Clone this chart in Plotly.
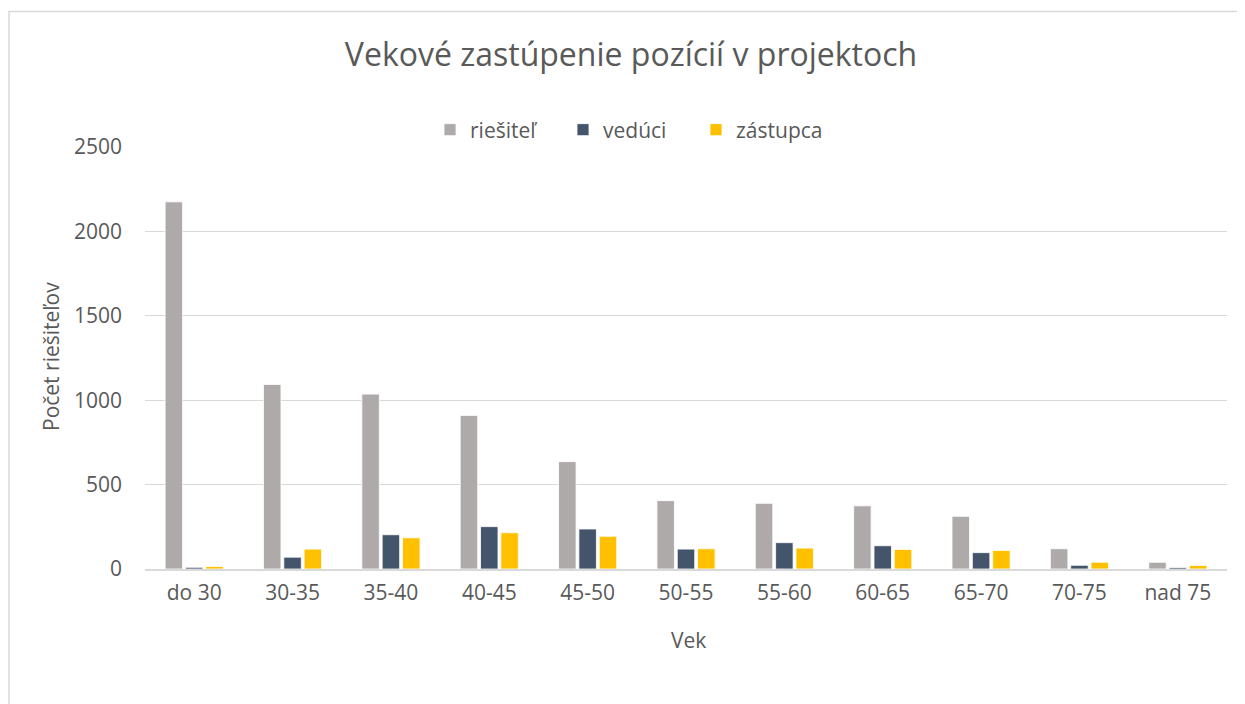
import plotly.graph_objects as go

categories = ["do 30", "30-35", "35-40", "40-45", "45-50", "50-55", "55-60", "60-65", "65-70", "70-75", "nad 75"]
riesitel = [2175, 1093, 1036, 910, 636, 405, 389, 374, 312, 120, 40]
veduci = [10, 70, 203, 251, 237, 118, 156, 138, 97, 22, 9]
zastupca = [15, 118, 185, 215, 194, 120, 124, 116, 110, 40, 21]
series_names = ["riešiteľ", "vedúci", "zástupca"]
series_colors = ["#AEAAAA", "#44546A", "#FFC000"]
y_ticks = [0, 500, 1000, 1500, 2000, 2500]

OFF = 8  # page body margin
W, H = 1245 - OFF, 704 - OFF
# plot area in screen pixels: x 145..1227, y 147..569
L = 145 - OFF
T = 147 - OFF
R = W - (1227 - OFF)
B = H - (569 - OFF)
pw, ph = W - L - R, H - T - B

def px_x(p):
    return (p - OFF - L) / pw

def px_y(p):
    return (H - B - (p - OFF)) / ph

TXT = "#595959"
FONT = "Open Sans"

fig = go.Figure()
for name, vals, col in zip(series_names, [riesitel, veduci, zastupca], series_colors):
    fig.add_trace(go.Bar(
        x=categories, y=vals, name=name,
        marker=dict(color=col, line=dict(color="white", width=0.8)),
    ))

fig.update_layout(
    width=W, height=H,
    margin=dict(l=L, r=R, t=T, b=B, autoexpand=False),
    paper_bgcolor="white", plot_bgcolor="white",
    font=dict(family=FONT, color=TXT, size=21),
    barmode="group", bargap=0.38, bargroupgap=0.14,
    title=dict(text="Vekové zastúpenie pozícií v projektoch",
               x=(631 - OFF) / W, xref="container", xanchor="center",
               y=1 - (55 - OFF) / H, yref="container", yanchor="middle",
               font=dict(size=32, color=TXT, family=FONT)),
    legend=dict(orientation="h", x=px_x(629.5), xanchor="center",
                y=px_y(130), yanchor="middle",
                font=dict(size=21, color=TXT, family=FONT),
                entrywidth=88, itemwidth=30, traceorder="normal",
                bgcolor="rgba(0,0,0,0)"),
    xaxis=dict(showgrid=False, showline=True, linecolor="#D9D9D9", linewidth=1.5,
               ticks="", tickfont=dict(size=21, color=TXT), ticklabelstandoff=4),
    yaxis=dict(range=[0, 2500], tickvals=y_ticks, showgrid=True, gridcolor="#D9D9D9",
               gridwidth=1, zeroline=False, showline=False, ticks="",
               tickfont=dict(size=21, color=TXT), ticklabelstandoff=22),
    showlegend=True,
)

fig.add_annotation(text="Počet riešiteľov", xref="paper", yref="paper",
                   x=px_x(51), y=px_y(357), textangle=-90, showarrow=False,
                   font=dict(size=21, color=TXT, family=FONT),
                   xanchor="center", yanchor="middle")
fig.add_annotation(text="Vek", xref="paper", yref="paper",
                   x=px_x(688), y=px_y(640), showarrow=False,
                   font=dict(size=21, color=TXT, family=FONT),
                   xanchor="center", yanchor="middle")

fig.add_shape(type="rect", xref="paper", yref="paper",
              x0=px_x(9), x1=px_x(1270), y0=px_y(730), y1=px_y(11.5),
              line=dict(color="#D9D9D9", width=1.5), fillcolor="rgba(0,0,0,0)", layer="below")

fig.write_html("out.html")
